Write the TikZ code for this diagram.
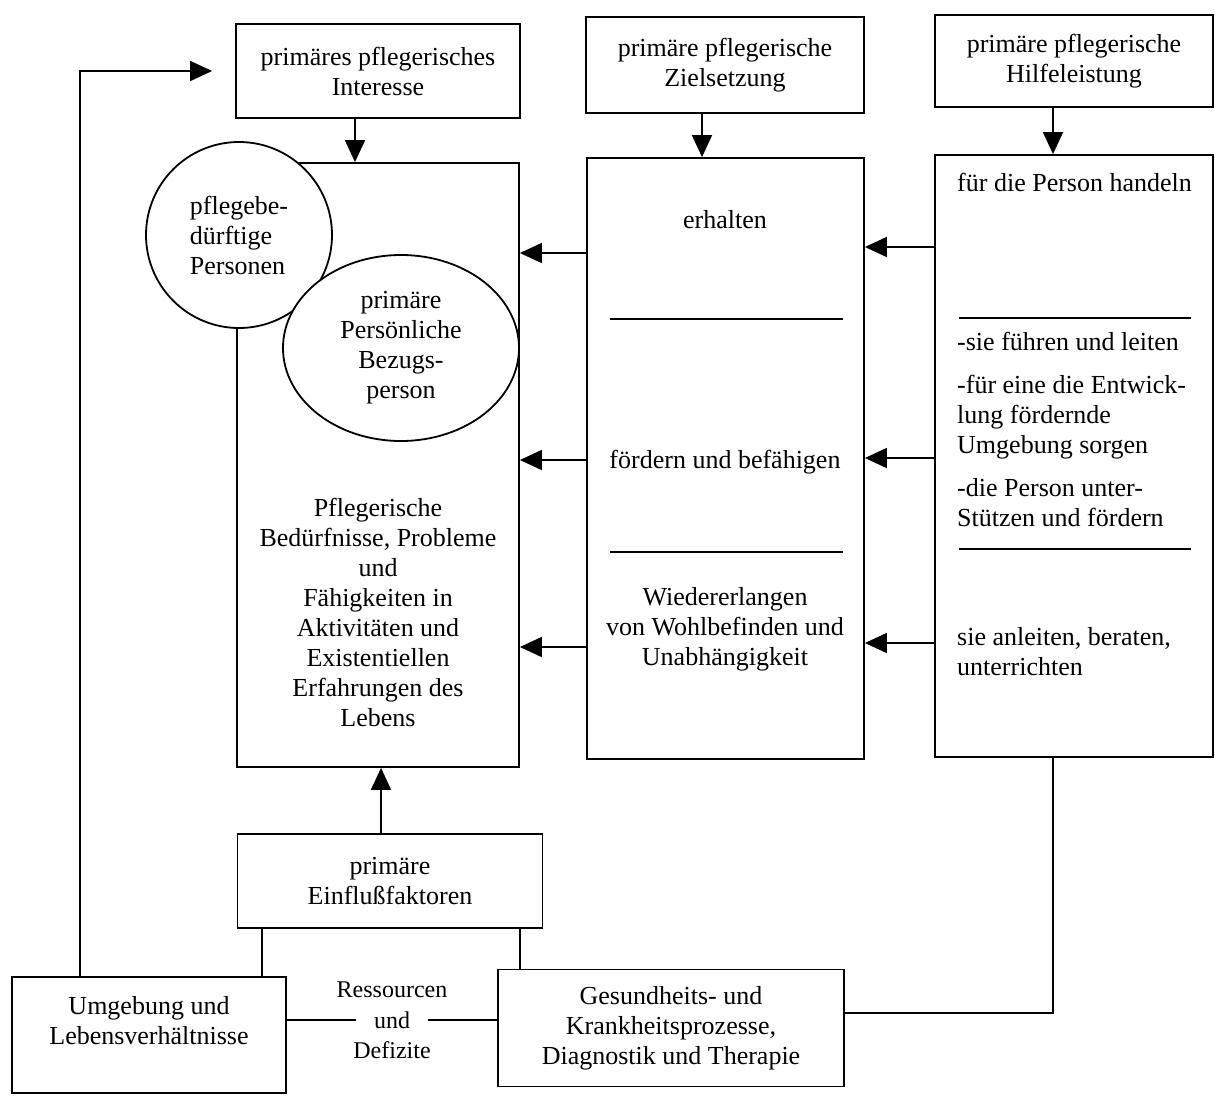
\documentclass[tikz,border=0pt]{standalone}
\usepackage{fontspec}
\setmainfont{Liberation Serif}
\usetikzlibrary{arrows.meta,shapes.geometric}
\newcommand{\schrift}{\fontsize{26pt}{30pt}\selectfont}
\newcommand{\kleinschrift}{\fontsize{24pt}{30pt}\selectfont}

\begin{document}
\begin{tikzpicture}[x=1pt,y=-1pt,
  kasten/.style={draw,line width=1.8pt,inner sep=0pt,align=center,font=\schrift},
  rund/.style={draw,fill=white,line width=1.8pt,inner sep=0pt,font=\schrift},
  pfeil/.style={-{Triangle[length=22pt,width=20pt]},line width=1.8pt},
  linie/.style={line width=1.8pt},
  txt/.style={inner sep=0pt,font=\schrift}]
  \useasboundingbox (0,0) rectangle (1215,1100);
  % obere Reihe
  \node[kasten,minimum width=284pt,minimum height=94pt] (interesse) at (378,71) {primäres pflegerisches\\Interesse};
  \node[kasten,minimum width=278pt,minimum height=96pt] (zielsetzung) at (725,65) {primäre pflegerische\\Zielsetzung};
  \node[kasten,minimum width=278pt,minimum height=92pt] (hilfeleistung) at (1074,61) {primäre pflegerische\\Hilfeleistung};
  % grosse Kaesten
  \node[kasten,minimum width=282pt,minimum height=604pt] (beduerfnisse) at (378,465) {};
  \node[kasten,minimum width=277pt,minimum height=601pt] (ziele) at (725.5,458.5) {};
  \node[kasten,minimum width=278pt,minimum height=602pt] (hilfen) at (1074,456) {};
  \node[rund,circle,minimum size=186pt,align=left] (personen) at (239,235) {pflegebe-\\dürftige\\Personen};
  \node[rund,ellipse,minimum width=236pt,minimum height=186pt,align=center] (bezug) at (401,348) {primäre\\Persönliche\\Bezugs-\\person};
  \node[txt,align=center] (lebenstext) at (378,612) {Pflegerische\\Bedürfnisse, Probleme\\und\\Fähigkeiten in\\Aktivitäten und\\Existentiellen\\Erfahrungen des\\Lebens};
  % Zielsetzung
  \node[txt] (erhalten) at (725,220) {erhalten};
  \node[txt] (foerdern) at (725,462) {fördern und befähigen};
  \node[txt,align=center] (wiedererlangen) at (725,629) {Wiedererlangen\\von Wohlbefinden und\\Unabhängigkeit};
  \draw[linie] (610,319) -- (843,319);
  \draw[linie] (610,552) -- (843,552);
  % Hilfeleistung
  \node[txt,anchor=west] (handeln) at (957,182) {für die Person handeln};
  \node[txt,anchor=west,align=left] (fuehren) at (957,429) {-sie führen und leiten\\[13pt]-für eine die Entwick-\\lung fördernde\\Umgebung sorgen\\[13pt]-die Person unter-\\Stützen und fördern};
  \node[txt,anchor=west,align=left] (anleiten) at (957,652) {sie anleiten, beraten,\\unterrichten};
  \draw[linie] (959,318) -- (1191,318);
  \draw[linie] (959,549) -- (1191,549);
  % untere Reihe
  \node[kasten,minimum width=305pt,minimum height=94pt] (einfluss) at (390,881) {primäre\\Einflußfaktoren};
  \node[kasten,minimum width=274pt,minimum height=116pt] (umgebung) at (149,1035) {Umgebung und\\Lebensverhältnisse\\\mbox{}};
  \node[kasten,minimum width=346pt,minimum height=117pt] (gesundheit) at (671,1028) {Gesundheits- und\\Krankheitsprozesse,\\Diagnostik und Therapie};
  \node[inner sep=0pt,font=\kleinschrift] (ressourcen) at (392,990) {Ressourcen};
  \node[inner xsep=18pt,inner ysep=0pt,font=\kleinschrift] (und) at (392,1020) {und};
  \node[inner sep=0pt,font=\kleinschrift] (defizite) at (392,1050) {Defizite};
  % Pfeile
  \draw[pfeil] ([xshift=-23pt]interesse.south) -- ([xshift=-23pt]beduerfnisse.north);
  \draw[pfeil] ([xshift=-23pt]zielsetzung.south) -- ([xshift=-23pt]zielsetzung.south |- ziele.north);
  \draw[pfeil] ([xshift=-21pt]hilfeleistung.south) -- ([xshift=-21pt]hilfen.north);
  \foreach \y in {253,460,647}{
    \draw[pfeil] (ziele.west |- 0,\y) -- (beduerfnisse.east |- 0,\y);
  }
  \foreach \y in {247,458,643}{
    \draw[pfeil] (hilfen.west |- 0,\y) -- (ziele.east |- 0,\y);
  }
  \draw[pfeil] ([xshift=-9pt]einfluss.north) -- ([xshift=-9pt]einfluss.north |- beduerfnisse.south);
  \draw[linie] (einfluss.south -| 262,0) -- (umgebung.north -| 262,0);
  \draw[linie] (einfluss.south -| 520,0) -- (gesundheit.north -| 520,0);
  \draw[linie] (umgebung.east |- und) -- (und.west);
  \draw[linie] (und.east) -- (gesundheit.west |- und);
  \draw[linie] ([yshift=15pt]gesundheit.east) -| ([xshift=-21pt]hilfen.south);
  \draw[pfeil] ([xshift=-69pt]umgebung.north) |- ([xshift=-23pt]interesse.west);
\end{tikzpicture}
\end{document}
